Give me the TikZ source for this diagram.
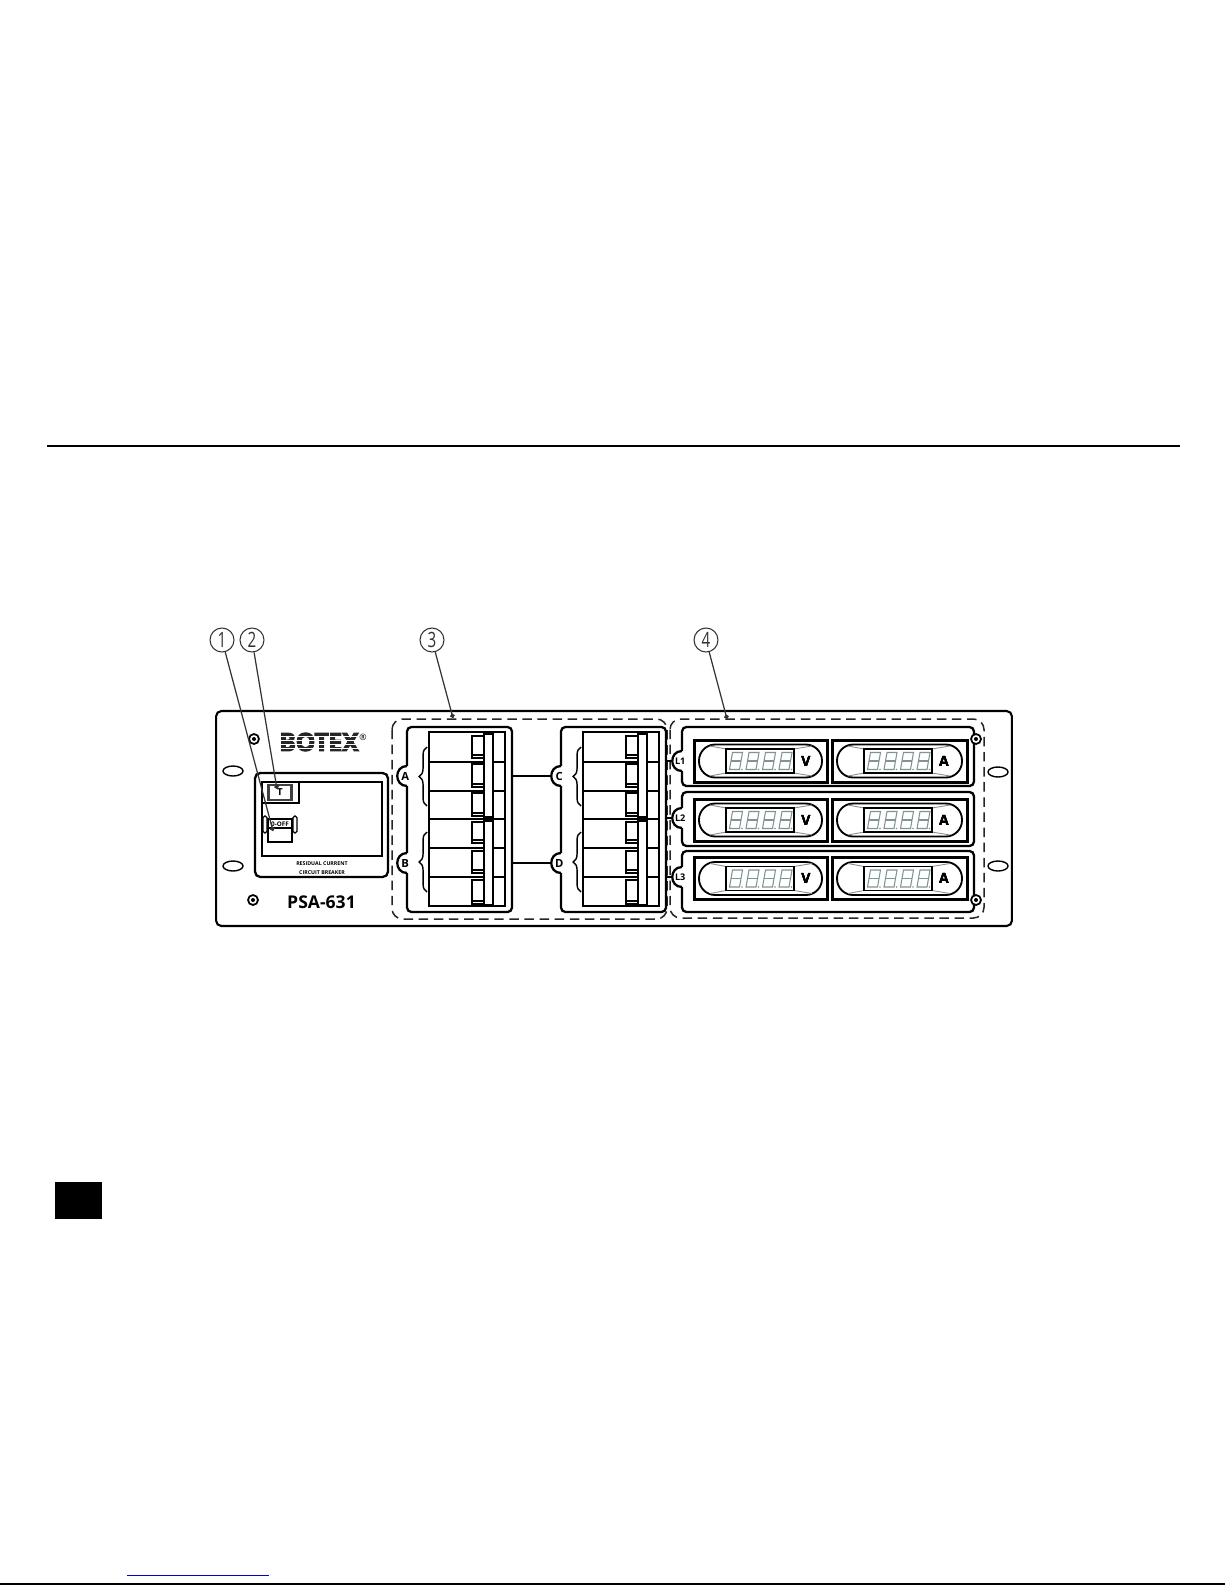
\documentclass[tikz,border=0pt]{standalone}
\usepackage{fontspec}
\usepackage{graphicx}
\setsansfont{Open Sans}
\newfontfamily\logofont[BoldFeatures={FakeBold=5}]{Open Sans}
\usetikzlibrary{arrows.meta,decorations.pathreplacing,shapes.geometric}

% One pole block of breakers, #1 = left edge
\newcommand{\breakerblock}[1]{
    \draw[pole] (#1,732) rectangle ++(76,174);
    \foreach \y in {762,791,819,848,877}
        \draw[pole] (#1,\y) -- ++(76,0);
    \draw[pole, fill=white] (#1+55,734) rectangle (#1+64,817);
    \draw[pole, fill=white] (#1+55,821) rectangle (#1+64,905);
    \foreach \a/\b in {736/758,764/787,793/816,822/843,851/873,880/904} {
        \draw[toggle] (#1+43,\a) rectangle (#1+55,\b);
        \draw[line width=0.6pt] (#1+43,\b-3) -- (#1+55,\b-3);
    }
}
% Half round tab on the left edge of a housing
\newcommand{\sidetab}[4]{
    \fill[white] (#2-1,#3-10) rectangle (#2+1.5,#3+10);
    \fill[white] (#2,#3-10) .. controls (#2-13,#3-10) and (#2-13,#3+10) .. (#2,#3+10);
    \draw[tabline] (#2,#3-10) .. controls (#2-13,#3-10) and (#2-13,#3+10) .. (#2,#3+10);
    \node[tabletter] (#1) at (#2,#3) {\hspace*{-2pt}#4};
}
% Seven segment digit
\newcommand{\sevenseg}[2]{
    \pgfmathsetmacro\cx{#1}
    \draw[segment] (\cx-3.5,#2-8.5) -- (\cx+6.5,#2-8.5) -- (\cx+3.5,#2+8.5) -- (\cx-6.5,#2+8.5) -- cycle;
    \draw[segment] (\cx-5,#2) -- (\cx+5,#2);
    \fill[segcolor] (\cx+6,#2+8.5) circle (0.9);
}
% Meter: #1 left, #2 width, #3 middle, #4 unit, #5 name
\newcommand{\meter}[5]{
    \draw[meterbox] (#1,#3-21) rectangle (#1+#2,#3+21);
    \node[pill, minimum width={(#2-10)*0.02cm}] (#5) at (#1+#2/2,#3) {};
    \draw[wedge] (#1+16,#3-15) -- (#1+32,#3-12);
    \draw[wedge] (#1+16,#3+15) -- (#1+32,#3+12);
    \draw[wedge] (#1+100,#3-12) -- (#1+118,#3-15);
    \draw[wedge] (#1+100,#3+12) -- (#1+118,#3+15);
    \draw[display] (#1+32,#3-12) rectangle (#1+100,#3+12);
    \foreach \o in {10,26.5,43,59.5}
        \sevenseg{#1+32+\o}{#3}
    \node[unit] (#5unit) at (#1+112,#3) {#4};
}

\begin{document}
\begin{tikzpicture}[
    x=0.02cm, y=-0.02cm,
    every node/.style={font=\sffamily},
    rail/.style={line width=1.15pt},
    panel/.style={draw, line width=1.2pt, rounded corners=3pt, inner sep=0pt},
    housing/.style={draw, line width=1.3pt, rounded corners=2.5pt, inner sep=0pt, fill=white},
    dashbox/.style={draw=black!85, line width=0.85pt, rounded corners=6pt, dash pattern=on 5.4pt off 3.2pt},
    slot/.style={draw, ellipse, line width=0.8pt, minimum width=0.4cm, minimum height=0.2cm, inner sep=0pt},
    screw/.style={draw, circle, line width=1pt, minimum size=0.2cm, inner sep=0pt, fill=white},
    pole/.style={line width=0.95pt},
    toggle/.style={line width=1pt, fill=white},
    tabline/.style={line width=1.3pt},
    tabletter/.style={circle, minimum size=0.4cm, inner sep=0pt, font=\sffamily\bfseries\fontsize{6.4}{7}\selectfont},
    wire/.style={line width=1.1pt},
    meterbox/.style={line width=1.7pt},
    pill/.style={draw, line width=1.05pt, rounded corners=9.2pt, minimum height=0.66cm, inner sep=0pt},
    wedge/.style={draw=black!45, line width=0.5pt},
    display/.style={line width=1.05pt, fill=white},
    segment/.style={draw=segcolor, line width=0.6pt},
    unit/.style={font=\sffamily\bfseries\fontsize{8}{9}\selectfont},
    num/.style={draw=black!80, circle, line width=0.6pt, minimum size=0.48cm, inner sep=0pt, text=black!80, font=\sffamily\fontsize{12}{13}\selectfont},
    leader/.style={draw=black!80, line width=0.7pt, -{Circle[length=2.6pt,width=2.6pt]}}
]
    \definecolor{segcolor}{HTML}{7F9494}
    \useasboundingbox (0,0) rectangle (1225,1585);
    \fill[white] (0,0) rectangle (1225,1585);

    % Page rules and black tab
    \coordinate (ruleL) at (47,446);
    \coordinate (ruleR) at (1180,446);
    \draw[rail] (ruleL) -- (ruleR);
    \node[fill=black, minimum width=0.94cm, minimum height=0.74cm, inner sep=0pt] (blacktab) at (78.5,1200.5) {};
    \coordinate (linkL) at (127,1575);
    \coordinate (linkR) at (269,1575);
    \draw[blue!85!black, line width=0.55pt] (linkL) -- (linkR);
    \coordinate (footL) at (0,1584);
    \coordinate (footR) at (1225,1584);
    \draw[line width=0.8pt] (footL) -- (footR);

    % Front panel
    \node[panel, minimum width=15.92cm, minimum height=4.3cm] (frontpanel) at (614,818.5) {};
    \node[slot] (slotTL) at (233,771) {};
    \node[slot] (slotBL) at (233,866) {};
    \node[slot] (slotTR) at (998,772) {};
    \node[slot] (slotBR) at (998,866) {};

    % Logo
    \node[inner sep=0pt, text=black!85] (logo) at (319,742) {\resizebox{45pt}{10.2pt}{\logofont\bfseries BOTEX}};
    \foreach \y in {736.5,740.5,744.5,748}
        \draw[white, line width=0.4pt] (278,\y) -- (360,\y);
    \node[inner sep=0pt, font=\sffamily\fontsize{5}{6}\selectfont] (regmark) at (363,737) {\textregistered};

    % Residual current breaker
    \node[panel, fill=white, line width=1.3pt, minimum width=2.66cm, minimum height=2.08cm] (rcbox) at (321.5,825) {};
    \draw[line width=1pt] (262,782) rectangle (382,856);
    \draw[line width=0.8pt] (262,803) -- (299,803) -- (299,782);
    \node[draw=black!75, line width=1.2pt, fill=white, minimum width=0.46cm, minimum height=0.3cm, inner sep=0pt, font=\sffamily\bfseries\fontsize{5.5}{6}\selectfont] (testbtn) at (280,792.5) {T};
    \draw[line width=0.9pt, fill=white] (268,819) rectangle (292,842);
    \draw[line width=0.6pt] (268,828) -- (292,828);
    \draw[line width=0.7pt, rounded corners=1pt, fill=white] (263,816) rectangle (267,833);
    \draw[line width=0.7pt, rounded corners=1pt, fill=white] (293,816) rectangle (297,833);
    \node[inner sep=0pt, font=\sffamily\bfseries\fontsize{3.6}{4}\selectfont] (offlabel) at (280,824) {0-OFF};
    \node[inner sep=0pt, font=\sffamily\bfseries\fontsize{3}{4}\selectfont] (rclabel) at (322,864) {RESIDUAL CURRENT};
    \node[inner sep=0pt, font=\sffamily\bfseries\fontsize{3}{4}\selectfont] (cblabel) at (322,873) {CIRCUIT BREAKER};
    \node[inner sep=0pt, font=\sffamily\bfseries\fontsize{10}{11}\selectfont] (model) at (321.5,902) {PSA-631};

    % Dashed groups
    \draw[dashbox] (392,719) rectangle (667,919);
    \draw[dashbox] (670,719) rectangle (984,918);

    % Breaker housings
    \node[housing, minimum width=2.1cm, minimum height=3.7cm] (brkL) at (459.5,819.5) {};
    \node[housing, minimum width=2.1cm, minimum height=3.7cm] (brkR) at (613.5,819.5) {};
    \breakerblock{429}
    \breakerblock{583}
    \sidetab{tabA}{407}{776}{A}
    \sidetab{tabB}{407}{863}{B}
    \sidetab{tabC}{561}{776}{C}
    \sidetab{tabD}{561}{863}{D}
    \draw[wire] (brkL.east |- tabA) -- (tabC);
    \draw[wire] (brkL.east |- tabB) -- (tabD);
    \draw[decorate, decoration={brace,amplitude=4.5pt}, line width=0.8pt] (427,806) -- (427,747);
    \draw[decorate, decoration={brace,amplitude=4.5pt}, line width=0.8pt] (427,892) -- (427,832);
    \draw[decorate, decoration={brace,amplitude=4.5pt}, line width=0.8pt] (581,806) -- (581,747);
    \draw[decorate, decoration={brace,amplitude=4.5pt}, line width=0.8pt] (581,892) -- (581,832);

    % Meter rows
    \node[housing, minimum width=5.84cm, minimum height=1.18cm] (rowA) at (828,756.5) {};
    \node[housing, minimum width=5.84cm, minimum height=1.08cm] (rowB) at (828,819) {};
    \node[housing, minimum width=5.84cm, minimum height=1.22cm] (rowC) at (828,881.5) {};
    \sidetab{tabLa}{682}{761}{\fontsize{5.2}{6}\selectfont L1}
    \sidetab{tabLb}{682}{818}{\fontsize{5.2}{6}\selectfont L2}
    \sidetab{tabLc}{682}{877}{\fontsize{5.2}{6}\selectfont L3}
    \foreach \n in {La,Lb,Lc}
        \draw[line width=0.8pt] (brkR.east |- tab\n) -- (tab\n);
    \foreach \n/\ym in {a/761,b/820,c/878.5} {
        \meter{694}{133}{\ym}{V}{volt\n}
        \meter{832}{135}{\ym}{A}{amp\n}
    }

    % Screws
    \foreach \n/\sx/\sy in {TL/254/739,BL/253/900,TR/976/739,BR/976/900} {
        \node[screw] (screw\n) at (\sx,\sy) {};
        \fill (screw\n) circle (2);
    }

    % Numbered callouts
    \node[num] (n1) at (222,640) {\scalebox{.72}[1]{1}};
    \node[num] (n2) at (252,640) {\scalebox{.72}[1]{2}};
    \node[num] (n3) at (432,640) {\scalebox{.72}[1]{3}};
    \node[num] (n4) at (706,640) {\scalebox{.72}[1]{4}};
    \coordinate (tip1) at (273,831);
    \coordinate (tip2) at (277,789);
    \coordinate (tip3) at (453,718);
    \coordinate (tip4) at (727,719);
    \foreach \k in {1,2,3,4}
        \draw[leader] (n\k) -- (tip\k);
\end{tikzpicture}
\end{document}
